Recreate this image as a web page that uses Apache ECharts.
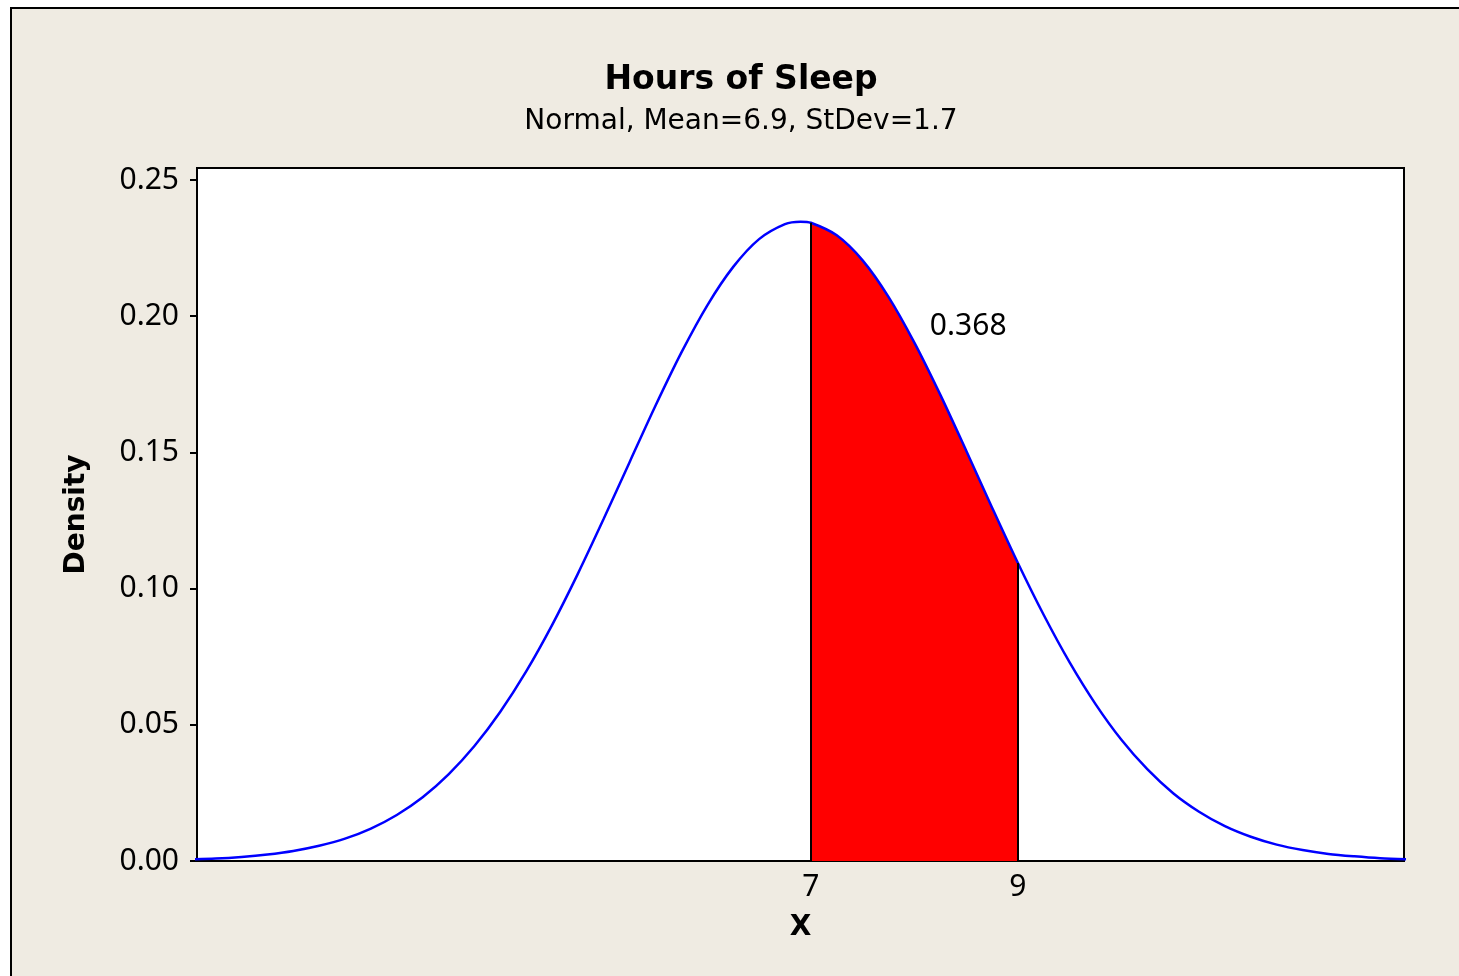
<!DOCTYPE html>
<html lang="en">
  <head>
    <meta charset="UTF-8" />
    <meta name="viewport" content="width=device-width, initial-scale=1.0" />
    <title>Hours of Sleep</title>
    <script src="https://cdn.jsdelivr.net/npm/echarts@6/dist/echarts.min.js"></script>
    <style>
      body { margin: 0; background: #fff; }
    </style>
  </head>
  <body>
    <div id="main" style="width: 1459px; height: 976px"></div>
    <script type="text/javascript">
      // curve (Normal, mean 6.9, sd 1.7)
      const xVals = [
        1.0, 1.25, 1.5, 1.75, 2.0, 2.25, 2.5, 2.75, 3.0, 3.25, 3.5, 3.75,
        4.0, 4.25, 4.5, 4.75, 5.0, 5.25, 5.5, 5.75, 6.0, 6.25, 6.5, 6.75,
        6.9, 7.0, 7.25, 7.5, 7.75, 8.0, 8.25, 8.5, 8.75, 9.0, 9.25, 9.5,
        9.75, 10.0, 10.25, 10.5, 10.75, 11.0, 11.25, 11.5, 11.75, 12.0,
        12.25, 12.5, 12.75,
      ];
      const density = [
        0.0006, 0.0009, 0.0015, 0.0024, 0.0037, 0.0056, 0.0082, 0.0119,
        0.0169, 0.0234, 0.0318, 0.0422, 0.0548, 0.0696, 0.0866, 0.1055,
        0.1257, 0.1465, 0.1672, 0.1867, 0.204, 0.2181, 0.2283, 0.2338,
        0.2347, 0.2343, 0.2297, 0.2205, 0.2071, 0.1903, 0.1712, 0.1507,
        0.1298, 0.1094, 0.0903, 0.0729, 0.0576, 0.0445, 0.0337, 0.0249,
        0.0181, 0.0128, 0.0089, 0.006, 0.004, 0.0026, 0.0017, 0.001, 0.0006,
      ];
      const shadeFrom = 7;
      const shadeTo = 9;
      const areaLabel = "0.368";
      const xTicks = [7, 9];
      const yTicks = [0, 0.05, 0.1, 0.15, 0.2, 0.25];

      const curve = xVals.map((x, i) => [x, density[i]]);
      const shaded = curve.filter((p) => p[0] >= shadeFrom && p[0] <= shadeTo);
      const edgeL = shaded[0];
      const edgeR = shaded[shaded.length - 1];

      const tickFont = { fontFamily: "Noto Sans", fontSize: 30, color: "#000" };
      const boldFont = {
        fontFamily: "DejaVu Sans",
        fontWeight: "bold",
        fontSize: 28,
        color: "#000",
      };

      let options = {
        backgroundColor: "#fff",
        animation: false,
        graphic: [
          {
            type: "rect",
            z: -10,
            shape: { x: 11, y: 8, width: 1460, height: 980 },
            style: { fill: "#EFEBE2", stroke: "#000", lineWidth: 2 },
          },
          {
            type: "text",
            x: 741,
            y: 80,
            style: {
              text: "Hours of Sleep",
              align: "center",
              verticalAlign: "middle",
              fontFamily: "DejaVu Sans",
              fontWeight: "bold",
              fontSize: 33,
              fill: "#000",
            },
          },
          {
            type: "text",
            x: 741,
            y: 122,
            style: {
              text: "Normal, Mean=6.9, StDev=1.7",
              align: "center",
              verticalAlign: "middle",
              fontFamily: "DejaVu Sans",
              fontSize: 28,
              fill: "#000",
            },
          },
        ],
        grid: {
          left: 197,
          top: 168,
          right: 55,
          bottom: 115,
          show: true,
          backgroundColor: "#fff",
          borderColor: "#000",
          borderWidth: 2,
        },
        xAxis: {
          type: "value",
          min: 1.07,
          max: 12.73,
          name: "X",
          nameLocation: "middle",
          nameGap: 53,
          nameTextStyle: boldFont,
          axisLine: { lineStyle: { color: "#000", width: 2 } },
          axisTick: { show: false },
          splitLine: { show: false },
          axisLabel: { ...tickFont, margin: 11, customValues: xTicks },
        },
        yAxis: {
          type: "value",
          min: 0,
          max: 0.2544,
          name: "Density",
          nameLocation: "middle",
          nameRotate: 90,
          nameGap: 106,
          nameTextStyle: boldFont,
          axisLine: { show: true, lineStyle: { color: "#000", width: 2 } },
          axisTick: {
            show: true,
            length: 7,
            lineStyle: { color: "#000", width: 2 },
            customValues: yTicks,
          },
          splitLine: { show: false },
          axisLabel: {
            ...tickFont,
            margin: 18,
            customValues: yTicks,
            formatter: (v) => v.toFixed(2),
          },
        },
        series: [
          {
            name: "P(7<X<9)",
            type: "line",
            data: shaded,
            smooth: 0.3,
            showSymbol: false,
            lineStyle: { width: 0 },
            areaStyle: { color: "#FF0000", opacity: 1 },
            z: 2,
            markLine: {
              silent: true,
              symbol: "none",
              label: { show: false },
              lineStyle: { color: "#000", width: 2, type: "solid" },
              data: [
                [{ coord: [edgeL[0], 0] }, { coord: edgeL }],
                [{ coord: [edgeR[0], 0] }, { coord: edgeR }],
              ],
            },
            markPoint: {
              silent: true,
              symbol: "circle",
              symbolSize: 0,
              data: [{ coord: [8.52, 0.1964], value: areaLabel }],
              label: {
                show: true,
                position: "inside",
                formatter: areaLabel,
                ...tickFont,
              },
            },
          },
          {
            name: "Density",
            type: "line",
            data: curve,
            smooth: 0.3,
            showSymbol: false,
            lineStyle: { color: "#0000FF", width: 2.5 },
            z: 3,
          },
        ],
      };
      let myChart = echarts.init(document.getElementById("main"));
      myChart.setOption(options);
    </script>
  </body>
</html>
